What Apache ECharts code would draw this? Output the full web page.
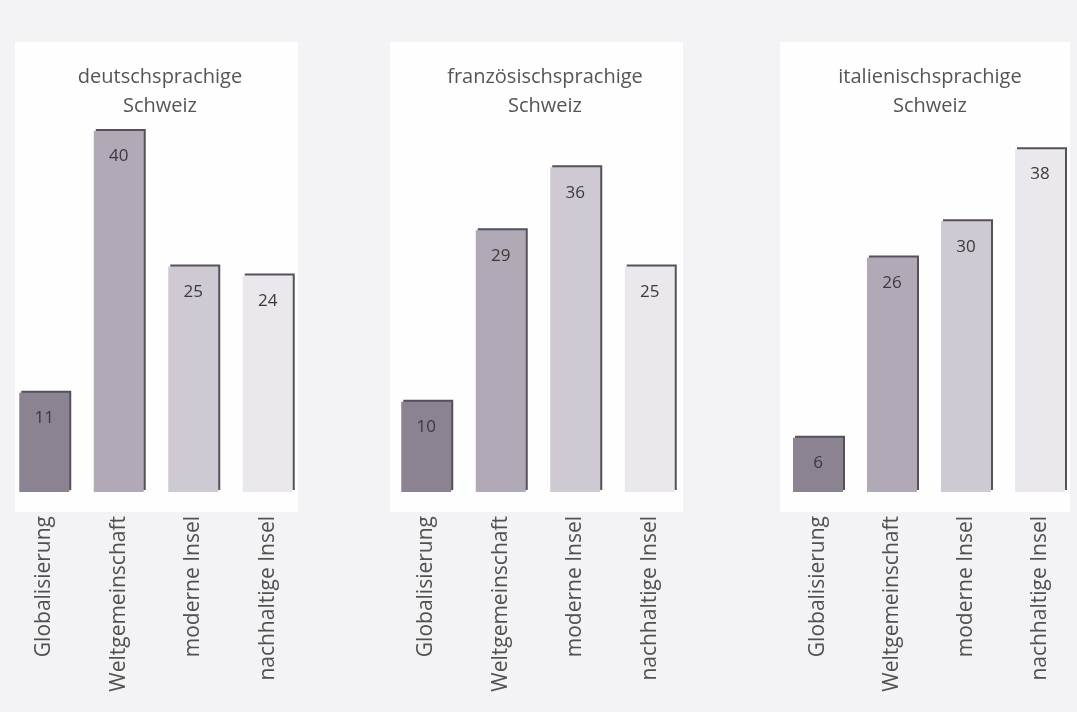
<!DOCTYPE html>
<html>
<head>
<meta charset="utf-8">
<script src="https://cdn.jsdelivr.net/npm/echarts@6/dist/echarts.min.js"></script>
<style>
html,body{margin:0;padding:0;background:#f3f3f5;}
#chart{width:1077px;height:712px;}
</style>
</head>
<body>
<div id="chart"></div>
<script>
const categories = ['Globalisierung', 'Weltgemeinschaft', 'moderne Insel', 'nachhaltige Insel'];
const panelTitles = ['deutschsprachige\nSchweiz', 'französischsprachige\nSchweiz', 'italienischsprachige\nSchweiz'];
const valuesDeutsch = [11, 40, 25, 24];
const valuesFranz = [10, 29, 36, 25];
const valuesItal = [6, 26, 30, 38];
const barColors = ['#8b8391', '#b1aab6', '#cec9d3', '#eae7ed'];

const panelValues = [valuesDeutsch, valuesFranz, valuesItal];
const gridLefts = [7, 389, 781];
const gridWidth = 298;
const panelRects = [[15, 42, 283, 470], [390, 42, 293, 470], [780, 42, 290, 470]];
const titleCenters = [155, 540, 925];

const chart = echarts.init(document.getElementById('chart'));
const font = 'Open Sans, Noto Sans, sans-serif';

const option = {
  backgroundColor: '#f3f3f5',
  animation: false,
  graphic: panelRects.map(r => ({
    type: 'rect', silent: true, z: -10,
    shape: {x: r[0], y: r[1], width: r[2], height: r[3]},
    style: {fill: '#fefefe'}
  })),
  title: panelTitles.map((t, i) => ({
    text: t,
    left: titleCenters[i],
    top: 58,
    textAlign: 'center',
    textStyle: {fontFamily: font, fontSize: 20, fontWeight: 'normal', color: '#555', lineHeight: 29}
  })),
  grid: gridLefts.map(l => ({left: l, width: gridWidth, top: 86, bottom: 220})),
  xAxis: gridLefts.map((l, i) => ({
    type: 'category', gridIndex: i, data: categories,
    axisLine: {show: false}, axisTick: {show: false},
    axisLabel: {rotate: 90, margin: 24, fontFamily: font, fontSize: 21, color: '#505050', interval: 0}
  })),
  yAxis: gridLefts.map((l, i) => ({
    type: 'value', gridIndex: i, min: 0, max: 45, show: false
  })),
  series: panelValues.map((vals, i) => ({
    type: 'bar', xAxisIndex: i, yAxisIndex: i,
    barWidth: 50,
    data: vals.map((v, k) => ({value: v, itemStyle: {color: barColors[k]}})),
    itemStyle: {shadowColor: '#55505a', shadowOffsetX: 2, shadowOffsetY: -2, shadowBlur: 0},
    label: {show: true, position: 'insideTop', distance: 17, fontFamily: font, fontSize: 17, color: '#3a3a3a'}
  }))
};
chart.setOption(option);
</script>
</body>
</html>
